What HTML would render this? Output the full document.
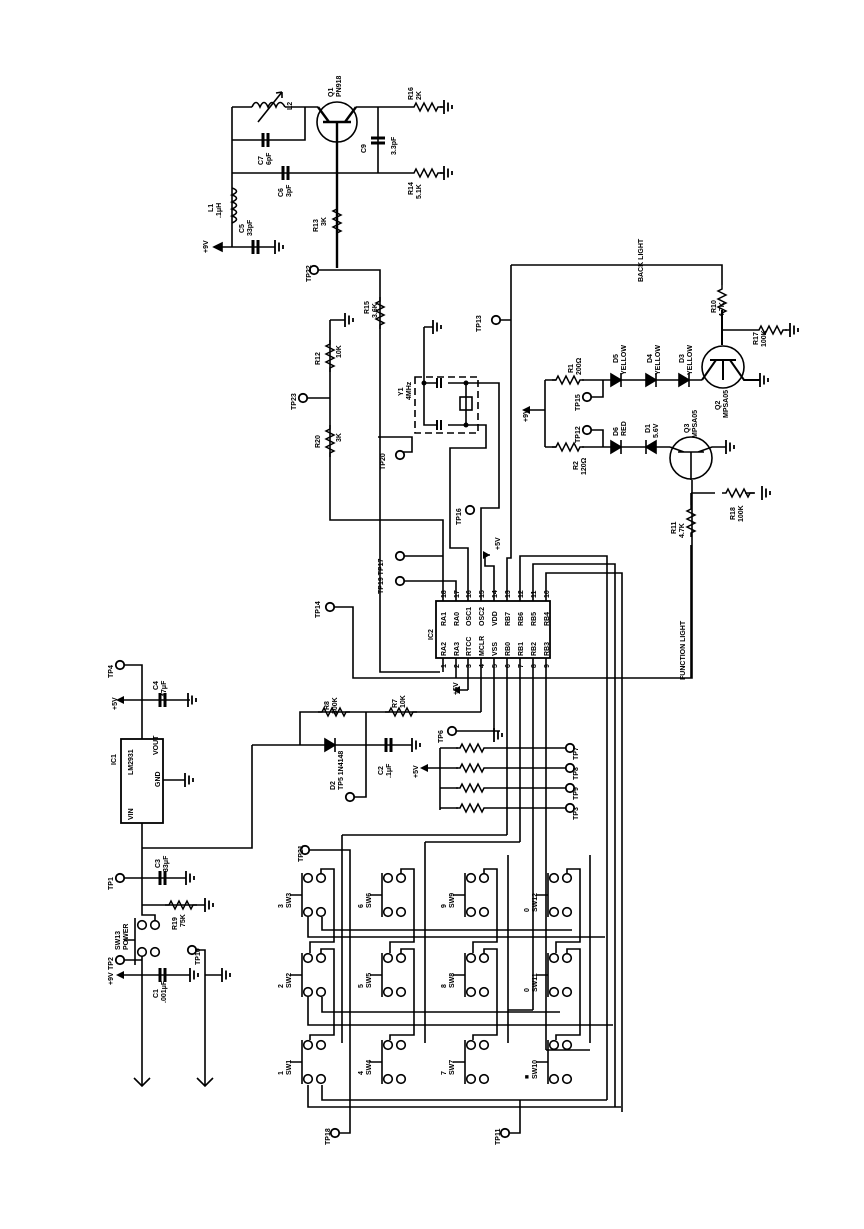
<!DOCTYPE html>
<html><head><meta charset="utf-8"><style>
html,body{margin:0;padding:0;background:#fff;}
svg{display:block}
text{font-family:"Liberation Sans",sans-serif;font-weight:bold;font-size:7px;fill:#000}
</style></head><body>
<svg width="864" height="1229" viewBox="0 0 864 1229" xmlns="http://www.w3.org/2000/svg">
<defs>
<path id="rh" d="M0,0 h4 l2,-4 l4,8 l4,-8 l4,8 l4,-8 l4,8 l2,-4 h4" fill="none" stroke="#000" stroke-width="1.5"/>
<path id="rv" d="M0,0 v4 l-4,2 l8,4 l-8,4 l8,4 l-8,4 l8,4 l-4,2 v4" fill="none" stroke="#000" stroke-width="1.5"/>
<g id="gnd" stroke="#000" stroke-width="1.8" fill="none"><path d="M0,-7 v14 M4,-4.5 v9 M8,-2 v4"/></g>
<g id="cap" stroke="#000" stroke-width="3" fill="none"><path d="M-2,-7 v14 M3,-7 v14"/></g>
<g id="capv" stroke="#000" stroke-width="3" fill="none"><path d="M-7,-2 h14 M-7,3 h14"/></g>
<circle id="tp" r="4.2" fill="#fff" stroke="#000" stroke-width="1.8"/>
<g id="sw" stroke="#000" stroke-width="1.6" fill="#fff">
<path d="M0,0 v44 M-12,22 h12" fill="none"/>
<circle cx="6" cy="5" r="4.3"/><circle cx="19" cy="5" r="4.3"/>
<circle cx="6" cy="39" r="4.3"/><circle cx="19" cy="39" r="4.3"/>
</g>
</defs>
<g stroke="#000" stroke-width="1.6" fill="none">
<path d="M232,107 V247 M232,107 H252 M285,107 H318 M305,107 V140 H232 M232,173 H378 M378,107 V173 M356,107 H410 M378,173 H410"/>
<path d="M252,107 q4,-9 8,0 q4,-9 8,0 q4,-9 8,0 q4,-9 9,0" />
<path d="M258,122 L282,92 M282,92 l-6,1 M282,92 l0,6"/>
<path d="M232,188 q9,3 0,7 q9,3 0,7 q9,3 0,7 q9,3 0,7 q9,3 0,7"/>
<circle cx="337" cy="122" r="20"/>
<path d="M323,122 H351 M337,122 V268 M329,122 L318,107 M345,122 L356,107" stroke-width="2.4"/>
<path d="M220,247 H275 M214,247 l8,-4 v8 z" fill="#000"/>
<path d="M314,270 H380 V672 H440"/>
</g>
<use href="#cap" x="265" y="140"/><use href="#cap" x="285" y="173"/><use href="#cap" x="255" y="247"/>
<use href="#capv" x="378" y="140"/>
<use href="#rh" x="410" y="107"/><use href="#rh" x="410" y="173"/>
<use href="#gnd" x="444" y="107"/><use href="#gnd" x="444" y="173"/><use href="#gnd" x="275" y="247"/>
<line x1="440" y1="107" x2="444" y2="107" stroke="#000" stroke-width="1.6"/><line x1="440" y1="173" x2="444" y2="173" stroke="#000" stroke-width="1.6"/>
<use href="#rv" x="337" y="205"/><use href="#rv" x="380" y="297"/>
<use href="#tp" x="314" y="270"/>

<g stroke="#000" stroke-width="1.6" fill="none">
<path d="M330,320 H345 M330,320 V520 H443 V592 M303,398 H330 M400,556 H443 M400,581 H456 V592"/>
<path d="M378,437 H412 V452 H400"/>
<path d="M468,592 V548 H450 V448 H486 V425 H466 M481,592 V508 H499 V383 H466"/>
<path d="M424,327 V425 H437 M424,383 H437 M448,383 H466 V425 H448 M466,395 V412 M424,327 H433"/>
<path d="M437,378 v10 M441,378 v10 M437,420 v10 M441,420 v10" stroke-width="2"/>
<rect x="460" y="397" width="12" height="13"/>
<rect x="415" y="377" width="63" height="56" stroke-dasharray="7,4"/>
<path d="M494,592 V566 H485 V555 H490 M511,265 V558 H507 V592 M511,265 H722 V285 M511,320 H496"/>
<path d="M520,592 V556 H607 V1100 M533,592 V564 H615 V1107 M546,592 V573 H622 V1112"/>
</g>
<use href="#rv" x="330" y="340"/><use href="#rv" x="330" y="425"/>
<use href="#gnd" x="345" y="320"/>
<g stroke="#000" stroke-width="1.8"><path d="M433,320 v14 M437,322.5 v9 M441,325 v4"/></g>
<use href="#tp" x="303" y="398"/><use href="#tp" x="400" y="455"/><use href="#tp" x="470" y="510"/>
<use href="#tp" x="400" y="556"/><use href="#tp" x="400" y="581"/><use href="#tp" x="496" y="320"/>
<circle cx="424" cy="383" r="2.5"/><circle cx="466" cy="383" r="2.5"/><circle cx="466" cy="425" r="2.5"/>
<path d="M490,555 l-7,-4 v8 z" />

<rect x="436" y="601" width="114" height="57" fill="#fff" stroke="#000" stroke-width="1.8"/>
<g stroke="#000" stroke-width="1.6" fill="none">
<path d="M443,592 V601 M456,592 V601 M468,592 V601 M481,592 V601 M494,592 V601 M507,592 V601 M520,592 V601 M533,592 V601 M546,592 V601"/>
<path d="M443,658 V672 M456,658 V678 M468,658 V690 M481,658 V712 M494,658 V731 M507,658 V835 M520,658 V842 M533,658 V1010 M546,658 V1050"/>
<path d="M330,607 H353 V678 H692 V480 M468,690 H460 M481,712 H300 V745 M252,745 H412 M252,745 V848 H142 M366,712 V797 H350"/>
<path d="M452,731 H500"/>
</g>
<path d="M453,690 l7,-4 v8 z"/>
<use href="#tp" x="330" y="607"/>

<g stroke="#000" stroke-width="1.6" fill="none">
<path d="M545,380 V447 M530,410 H545 M545,380 H556 M582,380 H702 M587,397 H603 V380 M545,447 H556 M582,447 H670 M587,430 H603 V447"/>
<circle cx="723" cy="367" r="21"/><circle cx="691" cy="458" r="21"/>
<path d="M710,360 H736 M723,360 V380 M716,360 L702,380 M730,360 L744,380 H760 M722,310 V345" stroke-width="2"/>
<path d="M678,452 H704 M691,452 V480 M684,452 L670,447 M698,452 L712,447 H726 M691,493 H715 M745,493 H755 M691,493 V505 M691,545 V678 M722,330 H755 M785,330 H790" stroke-width="1.6"/>
</g>
<path d="M522,410 l8,-4 v8 z"/>
<g stroke="#000" stroke-width="1.6" fill="#000">
<path d="M611,374 v12 l10,-6 z M646,374 v12 l10,-6 z M679,374 v12 l10,-6 z M611,441 v12 l10,-6 z M656,441 v12 l-10,-6 z"/>
<path d="M621,373 v14 M656,373 v14 M689,373 v14 M621,440 v14 M646,440 v14" />
</g>
<use href="#rh" x="552" y="380"/><use href="#rh" x="552" y="447"/><use href="#rh" x="722" y="493"/><use href="#rh" x="755" y="330"/>
<use href="#rv" x="722" y="285"/><use href="#rv" x="691" y="505"/>
<use href="#gnd" x="760" y="380"/><use href="#gnd" x="726" y="447"/><use href="#gnd" x="762" y="493"/><use href="#gnd" x="790" y="330"/>
<use href="#tp" x="587" y="397"/><use href="#tp" x="587" y="430"/>

<use href="#rh" x="318" y="712"/><use href="#rh" x="385" y="712"/>
<path d="M325,739 v12 l10,-6 z M335,738 v14" stroke="#000" stroke-width="1.6" fill="#000"/>
<use href="#cap" x="388" y="745"/><use href="#gnd" x="412" y="745"/>
<use href="#tp" x="350" y="797"/><use href="#tp" x="452" y="731"/>
<use href="#gnd" x="494" y="735"/>
<g stroke="#000" stroke-width="1.6" fill="none">
<path d="M440,748 V810 M427,768 H440 M440,748 H458 M488,748 H570 M440,768 H458 M488,768 H570 M440,788 H458 M488,788 H570 M440,808 H458 M488,808 H570"/>
</g>
<path d="M420,768 l8,-4 v8 z"/>
<use href="#rh" x="456" y="748"/><use href="#rh" x="456" y="768"/><use href="#rh" x="456" y="788"/><use href="#rh" x="456" y="808"/>
<use href="#tp" x="570" y="748"/><use href="#tp" x="570" y="768"/><use href="#tp" x="570" y="788"/><use href="#tp" x="570" y="808"/>

<g stroke="#000" stroke-width="1.6" fill="none">
<path d="M120,665 H142 V739 M124,700 H190 M163,780 H185 M142,823 V905 M120,878 H186 M142,905 H205 M142,905 V915 H155 V925"/>
<path d="M142,952 V1085 M120,960 H142 M124,975 H190 M192,950 H205 V1085 M205,975 H222"/>
<path d="M135,918 V965 M124,940 H135"/>
<path d="M134,1078 l8,8 l8,-8 M197,1078 l8,8 l8,-8"/>
</g>
<rect x="121" y="739" width="42" height="84" fill="#fff" stroke="#000" stroke-width="1.8"/>
<path d="M116,700 l8,-4 v8 z M116,975 l8,-4 v8 z"/>
<use href="#cap" x="162" y="700"/><use href="#cap" x="162" y="878"/><use href="#cap" x="162" y="975"/>
<use href="#rh" x="165" y="905"/>
<use href="#gnd" x="188" y="700"/><use href="#gnd" x="185" y="780"/><use href="#gnd" x="186" y="878"/><use href="#gnd" x="205" y="905"/><use href="#gnd" x="190" y="975"/><use href="#gnd" x="222" y="975"/>
<use href="#tp" x="120" y="665"/><use href="#tp" x="120" y="878"/><use href="#tp" x="120" y="960"/><use href="#tp" x="192" y="950"/>
<g stroke="#000" stroke-width="1.6" fill="#fff"><circle cx="142" cy="925" r="4.3"/><circle cx="155" cy="925" r="4.3"/><circle cx="142" cy="952" r="4.3"/><circle cx="155" cy="952" r="4.3"/></g>

<g stroke="#000" stroke-width="1.6" fill="none">
<path d="M305,850 H350 V1010 M335,1133 H350 V1010"/>
<path d="M322,917 V930 H572 M308,917 V937 H605 M322,997 V1012 H560 M308,997 V1025 H613 M322,1085 V1100 H607 M308,1085 V1107 H621"/>
<path d="M505,1133 H520 V1100"/>
<path d="M321,873 V869 H334 V942 H310 V953 M321,953 V949 H334 V1035 H310 V1040"/>
<path d="M401,873 V869 H414 V942 H390 V953 M401,953 V949 H414 V1035 H390 V1040"/>
<path d="M484,873 V869 H497 V942 H473 V953 M484,953 V949 H497 V1035 H473 V1040"/>
<path d="M567,873 V869 H580 V942 H556 V953 M567,953 V949 H580 V1035 H556 V1040"/>
<path d="M342,835 H507 M342,835 V1043 M425,842 H520 M425,842 V1043 M508,1010 H533 M508,855 V1043 M546,1050 H590 M590,855 V1043"/>
</g>
<use href="#tp" x="305" y="850"/><use href="#tp" x="335" y="1133"/><use href="#tp" x="505" y="1133"/>
<use href="#sw" x="302" y="873"/><use href="#sw" x="382" y="873"/><use href="#sw" x="465" y="873"/><use href="#sw" x="548" y="873"/>
<use href="#sw" x="302" y="953"/><use href="#sw" x="382" y="953"/><use href="#sw" x="465" y="953"/><use href="#sw" x="548" y="953"/>
<use href="#sw" x="302" y="1040"/><use href="#sw" x="382" y="1040"/><use href="#sw" x="465" y="1040"/><use href="#sw" x="548" y="1040"/>

<g>
<text transform="translate(292,110) rotate(-90)">L2</text>
<text transform="translate(333,97) rotate(-90)">Q1</text><text transform="translate(341,97) rotate(-90)">PN918</text>
<text transform="translate(413,100) rotate(-90)">R16</text><text transform="translate(421,100) rotate(-90)">2K</text>
<text transform="translate(413,195) rotate(-90)">R14</text><text transform="translate(421,199) rotate(-90)">5.1K</text>
<text transform="translate(263,165) rotate(-90)">C7</text><text transform="translate(271,165) rotate(-90)">6pF</text>
<text transform="translate(283,197) rotate(-90)">C6</text><text transform="translate(291,197) rotate(-90)">3pF</text>
<text transform="translate(366,153) rotate(-90)">C9</text><text transform="translate(396,155) rotate(-90)">3.3pF</text>
<text transform="translate(213,212) rotate(-90)">L1</text><text transform="translate(221,218) rotate(-90)">.1μH</text>
<text transform="translate(244,233) rotate(-90)">C5</text><text transform="translate(252,236) rotate(-90)">33pF</text>
<text transform="translate(208,253) rotate(-90)">+9V</text>
<text transform="translate(318,232) rotate(-90)">R13</text><text transform="translate(326,226) rotate(-90)">3K</text>
<text transform="translate(311,282) rotate(-90)">TP22</text>
<text transform="translate(369,314) rotate(-90)">R15</text><text transform="translate(377,318) rotate(-90)">3.6K</text>
<text transform="translate(320,365) rotate(-90)">R12</text><text transform="translate(341,358) rotate(-90)">10K</text>
<text transform="translate(296,410) rotate(-90)">TP23</text>
<text transform="translate(320,448) rotate(-90)">R20</text><text transform="translate(341,442) rotate(-90)">3K</text>
<text transform="translate(403,396) rotate(-90)">Y1</text><text transform="translate(411,400) rotate(-90)">4MHz</text>
<text transform="translate(385,470) rotate(-90)">TP20</text>
<text transform="translate(461,525) rotate(-90)">TP16</text>
<text transform="translate(383,594) rotate(-90)">TP19 TP17</text>
<text transform="translate(320,618) rotate(-90)">TP14</text>
<text transform="translate(481,332) rotate(-90)">TP13</text>
<text transform="translate(500,550) rotate(-90)">+5V</text>
<text transform="translate(643,282) rotate(-90)">BACK LIGHT</text>
<text transform="translate(716,313) rotate(-90)">R10</text><text transform="translate(724,317) rotate(-90)">4.7K</text>
<text transform="translate(758,345) rotate(-90)">R17</text><text transform="translate(766,347) rotate(-90)">100K</text>
<text transform="translate(573,373) rotate(-90)">R1</text><text transform="translate(581,375) rotate(-90)">200Ω</text>
<text transform="translate(618,363) rotate(-90)">D5</text><text transform="translate(626,375) rotate(-90)">YELLOW</text>
<text transform="translate(652,363) rotate(-90)">D4</text><text transform="translate(660,375) rotate(-90)">YELLOW</text>
<text transform="translate(684,363) rotate(-90)">D3</text><text transform="translate(692,375) rotate(-90)">YELLOW</text>
<text transform="translate(580,411) rotate(-90)">TP15</text><text transform="translate(580,443) rotate(-90)">TP12</text>
<text transform="translate(528,422) rotate(-90)">+9V</text>
<text transform="translate(618,436) rotate(-90)">D6</text><text transform="translate(626,436) rotate(-90)">RED</text>
<text transform="translate(650,433) rotate(-90)">D1</text><text transform="translate(658,438) rotate(-90)">5.6V</text>
<text transform="translate(720,410) rotate(-90)">Q2</text><text transform="translate(728,418) rotate(-90)">MPSA05</text>
<text transform="translate(689,433) rotate(-90)">Q3</text><text transform="translate(697,438) rotate(-90)">MPSA05</text>
<text transform="translate(578,470) rotate(-90)">R2</text><text transform="translate(586,475) rotate(-90)">120Ω</text>
<text transform="translate(735,520) rotate(-90)">R18</text><text transform="translate(743,522) rotate(-90)">100K</text>
<text transform="translate(676,534) rotate(-90)">R11</text><text transform="translate(684,538) rotate(-90)">4.7K</text>
<text transform="translate(685,680) rotate(-90)">FUNCTION LIGHT</text>
<text transform="translate(433,640) rotate(-90)">IC2</text>
</g>
<g>
<text transform="translate(446,626) rotate(-90)">RA1</text><text transform="translate(459,626) rotate(-90)">RA0</text><text transform="translate(471,626) rotate(-90)">OSC1</text><text transform="translate(484,626) rotate(-90)">OSC2</text><text transform="translate(497,626) rotate(-90)">VDD</text><text transform="translate(510,626) rotate(-90)">RB7</text><text transform="translate(523,626) rotate(-90)">RB6</text><text transform="translate(536,626) rotate(-90)">RB5</text><text transform="translate(549,626) rotate(-90)">RB4</text>
<text transform="translate(446,598) rotate(-90)">18</text><text transform="translate(459,598) rotate(-90)">17</text><text transform="translate(471,598) rotate(-90)">16</text><text transform="translate(484,598) rotate(-90)">15</text><text transform="translate(497,598) rotate(-90)">14</text><text transform="translate(510,598) rotate(-90)">13</text><text transform="translate(523,598) rotate(-90)">12</text><text transform="translate(536,598) rotate(-90)">11</text><text transform="translate(549,598) rotate(-90)">10</text>
<text transform="translate(446,656) rotate(-90)">RA2</text><text transform="translate(459,656) rotate(-90)">RA3</text><text transform="translate(471,656) rotate(-90)">RTCC</text><text transform="translate(484,656) rotate(-90)">MCLR</text><text transform="translate(497,656) rotate(-90)">VSS</text><text transform="translate(510,656) rotate(-90)">RB0</text><text transform="translate(523,656) rotate(-90)">RB1</text><text transform="translate(536,656) rotate(-90)">RB2</text><text transform="translate(549,656) rotate(-90)">RB3</text>
<text transform="translate(446,668) rotate(-90)">1</text><text transform="translate(459,668) rotate(-90)">2</text><text transform="translate(471,668) rotate(-90)">3</text><text transform="translate(484,668) rotate(-90)">4</text><text transform="translate(497,668) rotate(-90)">5</text><text transform="translate(510,668) rotate(-90)">6</text><text transform="translate(523,668) rotate(-90)">7</text><text transform="translate(536,668) rotate(-90)">8</text><text transform="translate(549,668) rotate(-90)">9</text>
<text transform="translate(458,695) rotate(-90)">+5V</text>
<text transform="translate(329,710) rotate(-90)">R8</text><text transform="translate(337,714) rotate(-90)">300K</text>
<text transform="translate(397,708) rotate(-90)">R7</text><text transform="translate(405,708) rotate(-90)">10K</text>
<text transform="translate(335,790) rotate(-90)">D2</text><text transform="translate(343,790) rotate(-90)">TP5 1N4148</text>
<text transform="translate(383,775) rotate(-90)">C2</text><text transform="translate(391,778) rotate(-90)">.1μF</text>
<text transform="translate(443,743) rotate(-90)">TP6</text>
<text transform="translate(418,778) rotate(-90)">+5V</text>
<text transform="translate(578,760) rotate(-90)">TP7</text><text transform="translate(578,780) rotate(-90)">TP8</text><text transform="translate(578,800) rotate(-90)">TP9</text><text transform="translate(578,820) rotate(-90)">TP3</text>
<text transform="translate(303,862) rotate(-90)">TP21</text>
<text transform="translate(330,1145) rotate(-90)">TP18</text>
<text transform="translate(500,1145) rotate(-90)">TP11</text>
<text transform="translate(113,678) rotate(-90)">TP4</text>
<text transform="translate(117,710) rotate(-90)">+5V</text>
<text transform="translate(158,690) rotate(-90)">C4</text><text transform="translate(166,697) rotate(-90)">47μF</text>
<text transform="translate(116,765) rotate(-90)">IC1</text>
<text transform="translate(133,775) rotate(-90)">LM2931</text>
<text transform="translate(158,755) rotate(-90)">VOUT</text>
<text transform="translate(160,787) rotate(-90)">GND</text>
<text transform="translate(133,820) rotate(-90)">VIN</text>
<text transform="translate(113,890) rotate(-90)">TP1</text>
<text transform="translate(160,868) rotate(-90)">C3</text><text transform="translate(168,872) rotate(-90)">33μF</text>
<text transform="translate(177,930) rotate(-90)">R19</text><text transform="translate(185,927) rotate(-90)">75K</text>
<text transform="translate(120,950) rotate(-90)">SW13</text><text transform="translate(128,950) rotate(-90)">POWER</text>
<text transform="translate(113,970) rotate(-90)">TP2</text>
<text transform="translate(113,985) rotate(-90)">+9V</text>
<text transform="translate(158,998) rotate(-90)">C1</text><text transform="translate(166,1003) rotate(-90)">.001μF</text>
<text transform="translate(200,965) rotate(-90)">TP10</text>
<text transform="translate(283,908) rotate(-90)">3</text><text transform="translate(291,908) rotate(-90)">SW3</text>
<text transform="translate(283,988) rotate(-90)">2</text><text transform="translate(291,988) rotate(-90)">SW2</text>
<text transform="translate(283,1075) rotate(-90)">1</text><text transform="translate(291,1075) rotate(-90)">SW1</text>
<text transform="translate(363,908) rotate(-90)">6</text><text transform="translate(371,908) rotate(-90)">SW6</text>
<text transform="translate(363,988) rotate(-90)">5</text><text transform="translate(371,988) rotate(-90)">SW5</text>
<text transform="translate(363,1075) rotate(-90)">4</text><text transform="translate(371,1075) rotate(-90)">SW4</text>
<text transform="translate(446,908) rotate(-90)">9</text><text transform="translate(454,908) rotate(-90)">SW9</text>
<text transform="translate(446,988) rotate(-90)">8</text><text transform="translate(454,988) rotate(-90)">SW8</text>
<text transform="translate(446,1075) rotate(-90)">7</text><text transform="translate(454,1075) rotate(-90)">SW7</text>
<text transform="translate(529,912) rotate(-90)">0</text><text transform="translate(537,912) rotate(-90)">SW12</text>
<text transform="translate(529,992) rotate(-90)">0</text><text transform="translate(537,992) rotate(-90)">SW11</text>
<text transform="translate(529,1079) rotate(-90)">■</text><text transform="translate(537,1079) rotate(-90)">SW10</text>
</g>
</svg>
</body></html>
